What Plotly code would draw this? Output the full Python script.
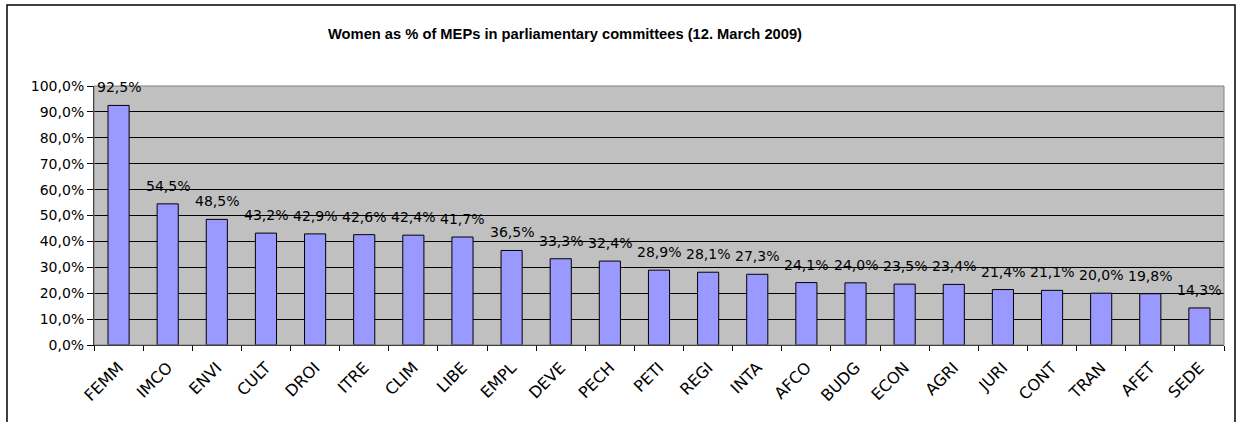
import plotly.graph_objects as go

committees = ["FEMM", "IMCO", "ENVI", "CULT", "DROI", "ITRE", "CLIM", "LIBE", "EMPL", "DEVE",
              "PECH", "PETI", "REGI", "INTA", "AFCO", "BUDG", "ECON", "AGRI", "JURI", "CONT",
              "TRAN", "AFET", "SEDE"]
women_pct = [92.5, 54.5, 48.5, 43.2, 42.9, 42.6, 42.4, 41.7, 36.5, 33.3,
             32.4, 28.9, 28.1, 27.3, 24.1, 24.0, 23.5, 23.4, 21.4, 21.1,
             20.0, 19.8, 14.3]
y_ticks = [0, 10, 20, 30, 40, 50, 60, 70, 80, 90, 100]
y_tick_labels = ["0,0%", "10,0%", "20,0%", "30,0%", "40,0%", "50,0%",
                 "60,0%", "70,0%", "80,0%", "90,0%", "100,0%"]
title_text = "Women as % of MEPs in parliamentary committees (12. March 2009)"

FONT = "Arial, Liberation Sans, sans-serif"
WIDE = "DejaVu Sans, Arial, sans-serif"
W, H = 1239, 422
L, R, T, B = 94, 15, 86, 77
pw = W - L - R
ph = H - T - B

fig = go.Figure()
fig.add_trace(go.Bar(
    x=committees, y=women_pct,
    marker=dict(color="#9999FF", line=dict(color="black", width=1)),
    hoverinfo="x+y",
))

annotations = []
for c, v in zip(committees, women_pct):
    annotations.append(dict(
        x=c, y=v, xref="x", yref="y", text=f"{v:.1f}%".replace(".", ","),
        showarrow=False, yshift=18, font=dict(family=WIDE, size=14, color="black"),
    ))
annotations.append(dict(
    x=(565 - L) / pw, y=(H - B - 34) / ph, xref="paper", yref="paper",
    xanchor="center", yanchor="middle",
    text="<b>" + title_text + "</b>", showarrow=False,
    font=dict(family=FONT, size=14.7, color="black"),
))

shapes = [
    dict(type="rect", xref="paper", yref="paper", x0=0, x1=1, y0=0, y1=1,
         line=dict(color="#808080", width=1), layer="above"),
    dict(type="rect", xref="paper", yref="paper",
         x0=(7 - L) / pw, x1=(1235 - L) / pw,
         y0=(H - B - 440) / ph, y1=(H - B - 5) / ph,
         line=dict(color="black", width=1.5), layer="above"),
]

fig.update_layout(
    width=W, height=H,
    margin=dict(l=L, r=R, t=T, b=B, pad=0),
    paper_bgcolor="white", plot_bgcolor="#C0C0C0",
    showlegend=False,
    bargap=0.57,
    annotations=annotations,
    shapes=shapes,
    font=dict(family=FONT, size=15, color="black"),
)
fig.update_xaxes(
    type="category", showgrid=False, tickangle=-45,
    ticks="outside", ticklen=5, tickcolor="black", tickson="boundaries",
    ticklabelstandoff=6,
    showline=True, linecolor="black", linewidth=1,
    tickfont=dict(family=WIDE, size=16, color="black"),
)
fig.update_yaxes(
    range=[0, 100], tickvals=y_ticks, ticktext=y_tick_labels,
    showgrid=True, gridcolor="black", gridwidth=1,
    ticks="outside", ticklen=6, tickcolor="black",
    showline=True, linecolor="black", linewidth=1, zeroline=False,
    tickfont=dict(family=WIDE, size=14, color="black"),
)

fig.write_html("out.html", config={"displayModeBar": False},
               post_script="document.body.style.margin='0';")
